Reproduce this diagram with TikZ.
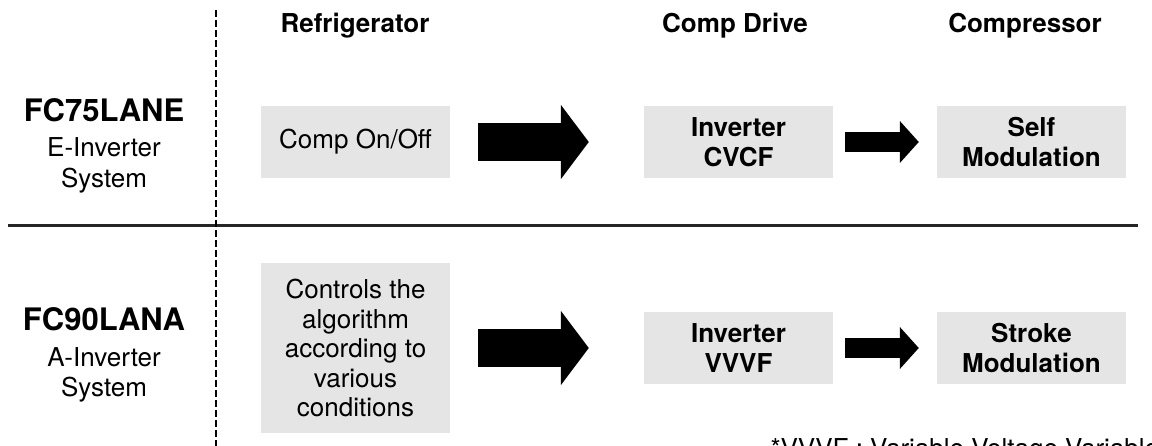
\documentclass[tikz,border=0pt]{standalone}
\usepackage{fontspec}
\setmainfont{TeX Gyre Heros}
\usetikzlibrary{positioning,arrows.meta,calc}
\definecolor{boxgray}{HTML}{E5E5E5}

\begin{document}
\begin{tikzpicture}[x=1pt,y=-1pt,every node/.style={font=\fontsize{26}{30}\selectfont}]
    \tikzstyle{cell}=[fill=boxgray,minimum width=189pt,minimum height=72pt,inner sep=0pt,align=center];
    \tikzstyle{hd}=[font=\fontsize{26}{30}\selectfont\bfseries,anchor=base];
    \tikzstyle{model}=[font=\fontsize{31}{34}\selectfont\bfseries,anchor=base];
    \tikzstyle{sys}=[font=\fontsize{26}{31}\selectfont,align=center,anchor=base];
    \tikzstyle{big}=[line width=38pt,-{Triangle[length=28pt,width=73pt]}];
    \tikzstyle{small}=[line width=20pt,-{Triangle[length=19pt,width=41pt]}];
    \useasboundingbox (0,0) rectangle (1152,446);
    \clip (0,0) rectangle (1152,446);

    % grid lines
    \draw[line width=3pt,black!85] (8,226) -- (1138,226);
    \draw[line width=2.5pt,dash pattern=on 7pt off 3pt] (216,10) -- (216,446);

    % column heads
    \node[hd] (hfr) at (355,33)  {Refrigerator};
    \node[hd] (hcd) at (735,33)  {Comp Drive};
    \node[hd] (hcp) at (1025,33) {Compressor};

    % FC75LANE row
    \node[model] (m1) at (104,122) {FC75LANE};
    \node[sys]   (s1) at (104,188) {E-Inverter\\System};
    \node[cell]  (onoff) at (355.5,142) {Comp On/Off};
    \node[cell,font=\fontsize{26}{30}\selectfont\bfseries] (cvcf) at (738.5,142) {Inverter\\CVCF};
    \node[cell,font=\fontsize{26}{30}\selectfont\bfseries] (self) at (1031.5,142) {Self\\Modulation};

    % FC90LANA row
    \node[model] (m2) at (104,331) {FC90LANA};
    \node[sys]   (s2) at (104,397) {A-Inverter\\System};
    \node[cell,minimum height=170pt,font=\fontsize{26}{29.5}\selectfont] (algo) at (355.5,348)
        {Controls the\\algorithm\\according to\\various\\conditions};
    \node[cell,font=\fontsize{26}{30}\selectfont\bfseries] (vvvf) at (738.5,348) {Inverter\\VVVF};
    \node[cell,font=\fontsize{26}{30}\selectfont\bfseries] (stroke) at (1031.5,348) {Stroke\\Modulation};

    \draw[big]   ($(onoff.east)+(28,0)$) -- ($(cvcf.west)-(55,0)$);
    \draw[small] ($(cvcf.east)+(12,0)$)  -- ($(self.west)-(18,0)$);
    \draw[big]   ($(algo.east)+(28,0)$)  -- ($(vvvf.west)-(55,0)$);
    \draw[small] ($(vvvf.east)+(12,0)$)  -- ($(stroke.west)-(18,0)$);

    \node[anchor=base west] (note) at (767,457) {*VVVF : Variable Voltage Variable Frequency};
\end{tikzpicture}
\end{document}
